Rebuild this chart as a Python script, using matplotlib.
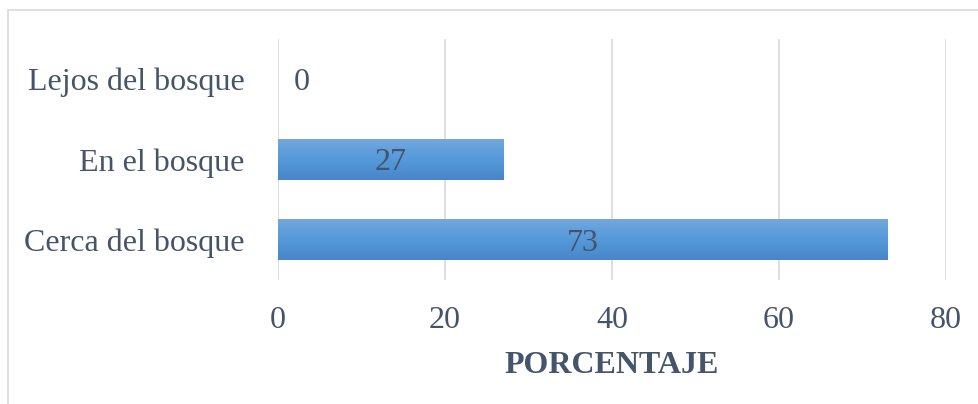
import matplotlib.pyplot as plt
import numpy as np
from matplotlib.colors import LinearSegmentedColormap
from matplotlib.patches import Rectangle

categories = ["Cerca del bosque", "En el bosque", "Lejos del bosque"]
values = [73, 27, 0]
xticks = [0, 20, 40, 60, 80]

text_color = "#44546a"
grid_color = "#d9dde3"

plt.rcParams['font.family'] = ['Liberation Serif', 'DejaVu Serif']

fig = plt.figure(figsize=(9.79, 4.04), dpi=100)
ax = fig.add_axes([278 / 979, 1 - 280 / 404, 668 / 979, 241 / 404])

# outer frame of the chart area
fig.patches.append(Rectangle((8 / 979, -0.1), 1.1, 1 - 10 / 404 + 0.1,
                             transform=fig.transFigure, fill=False,
                             edgecolor="#d9d9d9", linewidth=1.2))

# gradient for bars: lighter on top, darker at the bottom
cmap = LinearSegmentedColormap.from_list("barfill", ["#4787c9", "#5599db", "#72a8dd"])
grad = np.linspace(0, 1, 100).reshape(-1, 1)

bar_h = 0.51
y = np.arange(len(categories))
bars = ax.barh(y, values, height=bar_h, color="none", edgecolor="none")
for b in bars:
    x0, y0 = b.get_x(), b.get_y()
    w, h = b.get_width(), b.get_height()
    if w <= 0:
        continue
    ax.imshow(grad, cmap=cmap, aspect="auto", origin="lower",
              extent=(x0, x0 + w, y0, y0 + h), zorder=2)

for yi, v in zip(y, values):
    if v == 0:
        ax.annotate(str(v), (0, yi), xytext=(17, 0), textcoords="offset points",
                    ha="center", va="center_baseline", fontsize=23, color=text_color)
    else:
        ax.text(v / 2, yi, str(v), ha="center", va="center_baseline",
                fontsize=23, color=text_color, zorder=3)

ax.set_xlim(0, 80)
ax.set_ylim(-0.5, 2.5)
ax.set_xticks(xticks)
ax.set_yticks(y)
ax.set_yticklabels(categories)
ax.grid(axis="x", color=grid_color, linewidth=1.3, zorder=0)
ax.set_axisbelow(True)
for s in ax.spines.values():
    s.set_visible(False)
ax.tick_params(axis="both", length=0, labelsize=23, colors=text_color)
ax.tick_params(axis="y", pad=24)
ax.tick_params(axis="x", pad=19)
ax.set_xlabel("PORCENTAJE", fontsize=23, fontweight="bold", color=text_color, labelpad=11)

fig.savefig("out.png", dpi=100)
